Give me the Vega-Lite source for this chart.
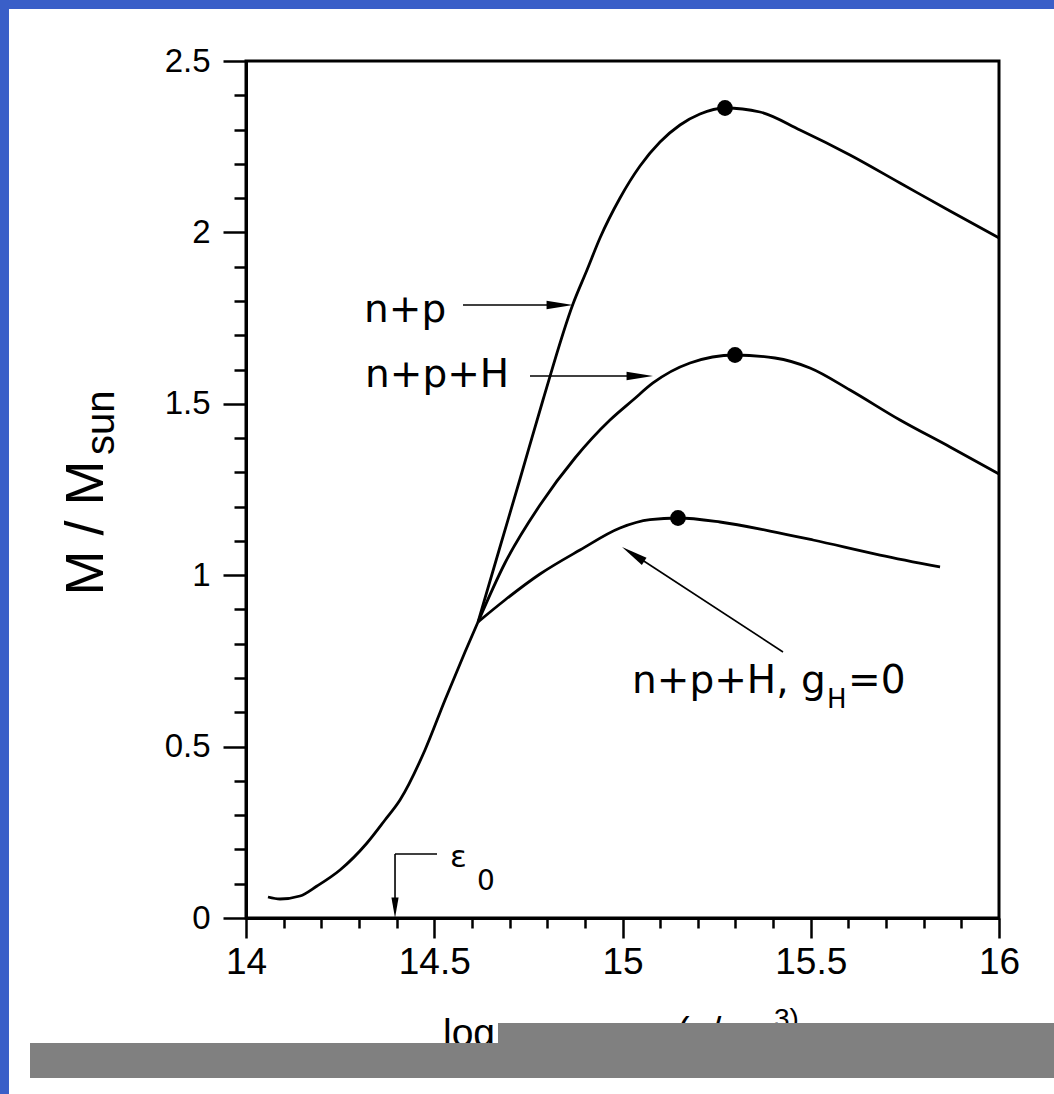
{
  "$schema": "https://vega.github.io/schema/vega-lite/v6.json",
  "width": 753,
  "height": 857,
  "autosize": {"type": "none"},
  "padding": {"left": 246, "top": 61, "right": 55, "bottom": 176},
  "background": "white",
  "config": {"view": {"stroke": "black", "strokeWidth": 3}},
  "encoding": {
    "x": {
      "field": "x", "type": "quantitative",
      "scale": {"domain": [14, 16], "nice": false, "zero": false},
      "axis": {
        "values": [14, 14.1, 14.2, 14.3, 14.4, 14.5, 14.6, 14.7, 14.8, 14.9, 15, 15.1, 15.2, 15.3, 15.4, 15.5, 15.6, 15.7, 15.8, 15.9, 16],
        "title": null, "grid": false,
        "domainColor": "black", "domainWidth": 3,
        "tickColor": "black", "tickWidth": 2.5,
        "tickSize": {"condition": {"test": "abs(datum.value*2 - round(datum.value*2)) < 0.001", "value": 20}, "value": 10},
        "labelExpr": "abs(datum.value*2 - round(datum.value*2)) < 0.001 ? toString(round(datum.value*10)/10) : ''",
        "labelFont": "Liberation Sans", "labelFontSize": 37, "labelColor": "black", "labelPadding": 6,
        "labelOverlap": false, "labelFlush": false, "labelBound": false
      }
    },
    "y": {
      "field": "y", "type": "quantitative",
      "scale": {"domain": [0, 2.5], "nice": false, "zero": false},
      "axis": {
        "values": [0, 0.1, 0.2, 0.3, 0.4, 0.5, 0.6, 0.7, 0.8, 0.9, 1, 1.1, 1.2, 1.3, 1.4, 1.5, 1.6, 1.7, 1.8, 1.9, 2, 2.1, 2.2, 2.3, 2.4, 2.5],
        "grid": false,
        "domainColor": "black", "domainWidth": 3,
        "tickColor": "black", "tickWidth": 2.5,
        "tickSize": {"condition": {"test": "abs(datum.value*2 - round(datum.value*2)) < 0.001", "value": 23}, "value": 12},
        "labelExpr": "abs(datum.value*2 - round(datum.value*2)) < 0.001 ? toString(round(datum.value*10)/10) : ''",
        "labelFont": "Liberation Sans", "labelFontSize": 33, "labelColor": "black", "labelPadding": 13,
        "labelOverlap": false, "labelFlush": false, "labelBound": false,
        "title": "M / M",
        "titleFont": "Liberation Sans", "titleFontSize": 54, "titleFontWeight": "normal", "titleColor": "black",
        "titleAngle": 270, "titleX": -144, "titleY": 534, "titleAlign": "left", "titleBaseline": "alphabetic"
      }
    }
  },
  "layer": [
    {
      "data": {"values": [
        {"x": 13.3, "x2": 13.3705, "y": 2.7, "y2": -0.6},
        {"x": 13.3, "x2": 16.2, "y": 2.7, "y2": 2.6517}
      ]},
      "mark": {"type": "rect", "color": "#3a5fc8"},
      "encoding": {"x2": {"field": "x2"}, "y2": {"field": "y2"}}
    },
    {
      "data": {"values": [
        {"curve": "common", "x": 14.0584, "y": 0.0613},
        {"curve": "common", "x": 14.0903, "y": 0.0554},
        {"curve": "common", "x": 14.1434, "y": 0.0642},
        {"curve": "common", "x": 14.1886, "y": 0.0933},
        {"curve": "common", "x": 14.2497, "y": 0.14},
        {"curve": "common", "x": 14.3214, "y": 0.2188},
        {"curve": "common", "x": 14.3692, "y": 0.2859},
        {"curve": "common", "x": 14.409, "y": 0.3442},
        {"curve": "common", "x": 14.4754, "y": 0.4901},
        {"curve": "common", "x": 14.5286, "y": 0.6359},
        {"curve": "common", "x": 14.5817, "y": 0.776},
        {"curve": "common", "x": 14.6162, "y": 0.8635},
        {"curve": "n+p", "x": 14.6162, "y": 0.8635},
        {"curve": "n+p", "x": 14.6746, "y": 1.0823},
        {"curve": "n+p", "x": 14.7278, "y": 1.2806},
        {"curve": "n+p", "x": 14.7888, "y": 1.5111},
        {"curve": "n+p", "x": 14.8685, "y": 1.7911},
        {"curve": "n+p", "x": 14.9057, "y": 1.8903},
        {"curve": "n+p", "x": 14.9402, "y": 1.9837},
        {"curve": "n+p", "x": 14.9934, "y": 2.1004},
        {"curve": "n+p", "x": 15.0465, "y": 2.1937},
        {"curve": "n+p", "x": 15.0996, "y": 2.2637},
        {"curve": "n+p", "x": 15.1527, "y": 2.3133},
        {"curve": "n+p", "x": 15.2058, "y": 2.3454},
        {"curve": "n+p", "x": 15.2722, "y": 2.3629},
        {"curve": "n+p", "x": 15.3652, "y": 2.3512},
        {"curve": "n+p", "x": 15.4714, "y": 2.2987},
        {"curve": "n+p", "x": 15.6042, "y": 2.2258},
        {"curve": "n+p", "x": 15.7371, "y": 2.1441},
        {"curve": "n+p", "x": 15.8699, "y": 2.0624},
        {"curve": "n+p", "x": 16.0, "y": 1.9837},
        {"curve": "n+p+H", "x": 14.6162, "y": 0.8635},
        {"curve": "n+p+H", "x": 14.6879, "y": 1.0356},
        {"curve": "n+p+H", "x": 14.7809, "y": 1.2048},
        {"curve": "n+p+H", "x": 14.8738, "y": 1.3419},
        {"curve": "n+p+H", "x": 14.9668, "y": 1.4527},
        {"curve": "n+p+H", "x": 15.0279, "y": 1.5111},
        {"curve": "n+p+H", "x": 15.081, "y": 1.5607},
        {"curve": "n+p+H", "x": 15.1793, "y": 1.619},
        {"curve": "n+p+H", "x": 15.2988, "y": 1.6424},
        {"curve": "n+p+H", "x": 15.405, "y": 1.6336},
        {"curve": "n+p+H", "x": 15.498, "y": 1.6044},
        {"curve": "n+p+H", "x": 15.6042, "y": 1.5403},
        {"curve": "n+p+H", "x": 15.7371, "y": 1.4527},
        {"curve": "n+p+H", "x": 15.8699, "y": 1.374},
        {"curve": "n+p+H", "x": 16.0, "y": 1.2952},
        {"curve": "n+p+H, gH=0", "x": 14.6162, "y": 0.8635},
        {"curve": "n+p+H, gH=0", "x": 14.6879, "y": 0.9277},
        {"curve": "n+p+H, gH=0", "x": 14.7809, "y": 1.0035},
        {"curve": "n+p+H, gH=0", "x": 14.8871, "y": 1.0735},
        {"curve": "n+p+H, gH=0", "x": 14.9934, "y": 1.1377},
        {"curve": "n+p+H, gH=0", "x": 15.073, "y": 1.1619},
        {"curve": "n+p+H, gH=0", "x": 15.1474, "y": 1.1669},
        {"curve": "n+p+H, gH=0", "x": 15.259, "y": 1.1552},
        {"curve": "n+p+H, gH=0", "x": 15.3918, "y": 1.1289},
        {"curve": "n+p+H, gH=0", "x": 15.506, "y": 1.1027},
        {"curve": "n+p+H, gH=0", "x": 15.6839, "y": 1.0589},
        {"curve": "n+p+H, gH=0", "x": 15.8433, "y": 1.0239}
      ]},
      "mark": {"type": "line", "color": "black", "strokeWidth": 2.8, "interpolate": "monotone"},
      "encoding": {"detail": {"field": "curve"}}
    },
    {
      "data": {"values": [
        {"curve": "n+p", "x": 15.2722, "y": 2.3629},
        {"curve": "n+p+H", "x": 15.2988, "y": 1.6424},
        {"curve": "n+p+H, gH=0", "x": 15.1474, "y": 1.1669}
      ]},
      "mark": {"type": "point", "shape": "circle", "filled": true, "color": "black", "opacity": 1, "size": 250}
    },
    {
      "data": {"values": [
        {"x": 14.5764, "x2": 14.834, "y": 1.7882, "y2": 1.7882},
        {"x": 14.7543, "x2": 15.0465, "y": 1.5811, "y2": 1.5811},
        {"x": 15.4263, "x2": 15.0199, "y": 0.776, "y2": 1.0677},
        {"x": 14.3958, "x2": 14.3958, "y": 0.1867, "y2": 0.0379},
        {"x": 14.3958, "x2": 14.5073, "y": 0.1867, "y2": 0.1867}
      ]},
      "mark": {"type": "rule", "color": "black", "strokeWidth": 1.6},
      "encoding": {"x2": {"field": "x2"}, "y2": {"field": "y2"}}
    },
    {
      "data": {"values": [
        {"x": 14.8685, "y": 1.7882},
        {"x": 15.081, "y": 1.5811}
      ]},
      "mark": {"type": "point", "shape": "M0,0L0.32,2L-0.32,2Z", "angle": 90, "filled": true, "color": "black", "opacity": 1, "size": 700}
    },
    {
      "data": {"values": [{"x": 14.9987, "y": 1.0823}]},
      "mark": {"type": "point", "shape": "M0,0L0.32,2L-0.32,2Z", "angle": 303, "filled": true, "color": "black", "opacity": 1, "size": 700}
    },
    {
      "data": {"values": [{"x": 14.3958, "y": 0}]},
      "mark": {"type": "point", "shape": "M0,0L0.35,2L-0.35,2Z", "angle": 180, "filled": true, "color": "black", "opacity": 1, "size": 420}
    },
    {
      "data": {"values": [
        {"x": 14.3134, "y": 1.7386, "label": "n+p"},
        {"x": 14.3161, "y": 1.549, "label": "n+p+H"},
        {"x": 15.0252, "y": 0.6564, "label": "n+p+H, g"},
        {"x": 15.5989, "y": 0.6564, "label": "=0"}
      ]},
      "mark": {"type": "text", "font": "DejaVu Sans", "fontSize": 39, "align": "left", "baseline": "alphabetic", "color": "black"},
      "encoding": {"text": {"field": "label"}}
    },
    {
      "data": {"values": [{"x": 15.5432, "y": 0.6126, "label": "H"}]},
      "mark": {"type": "text", "font": "DejaVu Sans", "fontSize": 26, "align": "left", "baseline": "alphabetic", "color": "black"},
      "encoding": {"text": {"field": "label"}}
    },
    {
      "data": {"values": [{"x": 13.6494, "y": 1.3506, "label": "sun"}]},
      "mark": {"type": "text", "font": "Liberation Sans", "fontSize": 40, "angle": 270, "align": "left", "baseline": "alphabetic", "color": "black"},
      "encoding": {"text": {"field": "label"}}
    },
    {
      "data": {"values": [{"x": 14.5418, "y": 0.1488, "label": "ε"}]},
      "mark": {"type": "text", "font": "DejaVu Sans", "fontSize": 31, "align": "left", "baseline": "alphabetic", "color": "black"},
      "encoding": {"text": {"field": "label"}}
    },
    {
      "data": {"values": [{"x": 14.6135, "y": 0.0817, "label": "0"}]},
      "mark": {"type": "text", "font": "DejaVu Sans", "fontSize": 28, "align": "left", "baseline": "alphabetic", "color": "black"},
      "encoding": {"text": {"field": "label"}}
    },
    {
      "data": {"values": [{"x": 14.5232, "y": -0.3734, "label": "log ε"}]},
      "mark": {"type": "text", "font": "Liberation Sans", "fontSize": 39, "align": "left", "baseline": "alphabetic", "color": "black"},
      "encoding": {"text": {"field": "label"}}
    },
    {
      "data": {"values": [{"x": 15.1448, "y": -0.3676, "label": "(g/cm"}]},
      "mark": {"type": "text", "font": "Liberation Sans", "fontSize": 38, "align": "left", "baseline": "alphabetic", "color": "black"},
      "encoding": {"text": {"field": "label"}}
    },
    {
      "data": {"values": [{"x": 15.4024, "y": -0.3209, "label": "3)"}]},
      "mark": {"type": "text", "font": "Liberation Sans", "fontSize": 28, "align": "left", "baseline": "alphabetic", "color": "black"},
      "encoding": {"text": {"field": "label"}}
    },
    {
      "data": {"values": [
        {"x": 13.4263, "x2": 16.2, "y": -0.3646, "y2": -0.4667},
        {"x": 14.6693, "x2": 16.2, "y": -0.3063, "y2": -0.3646}
      ]},
      "mark": {"type": "rect", "color": "#808080"},
      "encoding": {"x2": {"field": "x2"}, "y2": {"field": "y2"}}
    }
  ]
}
